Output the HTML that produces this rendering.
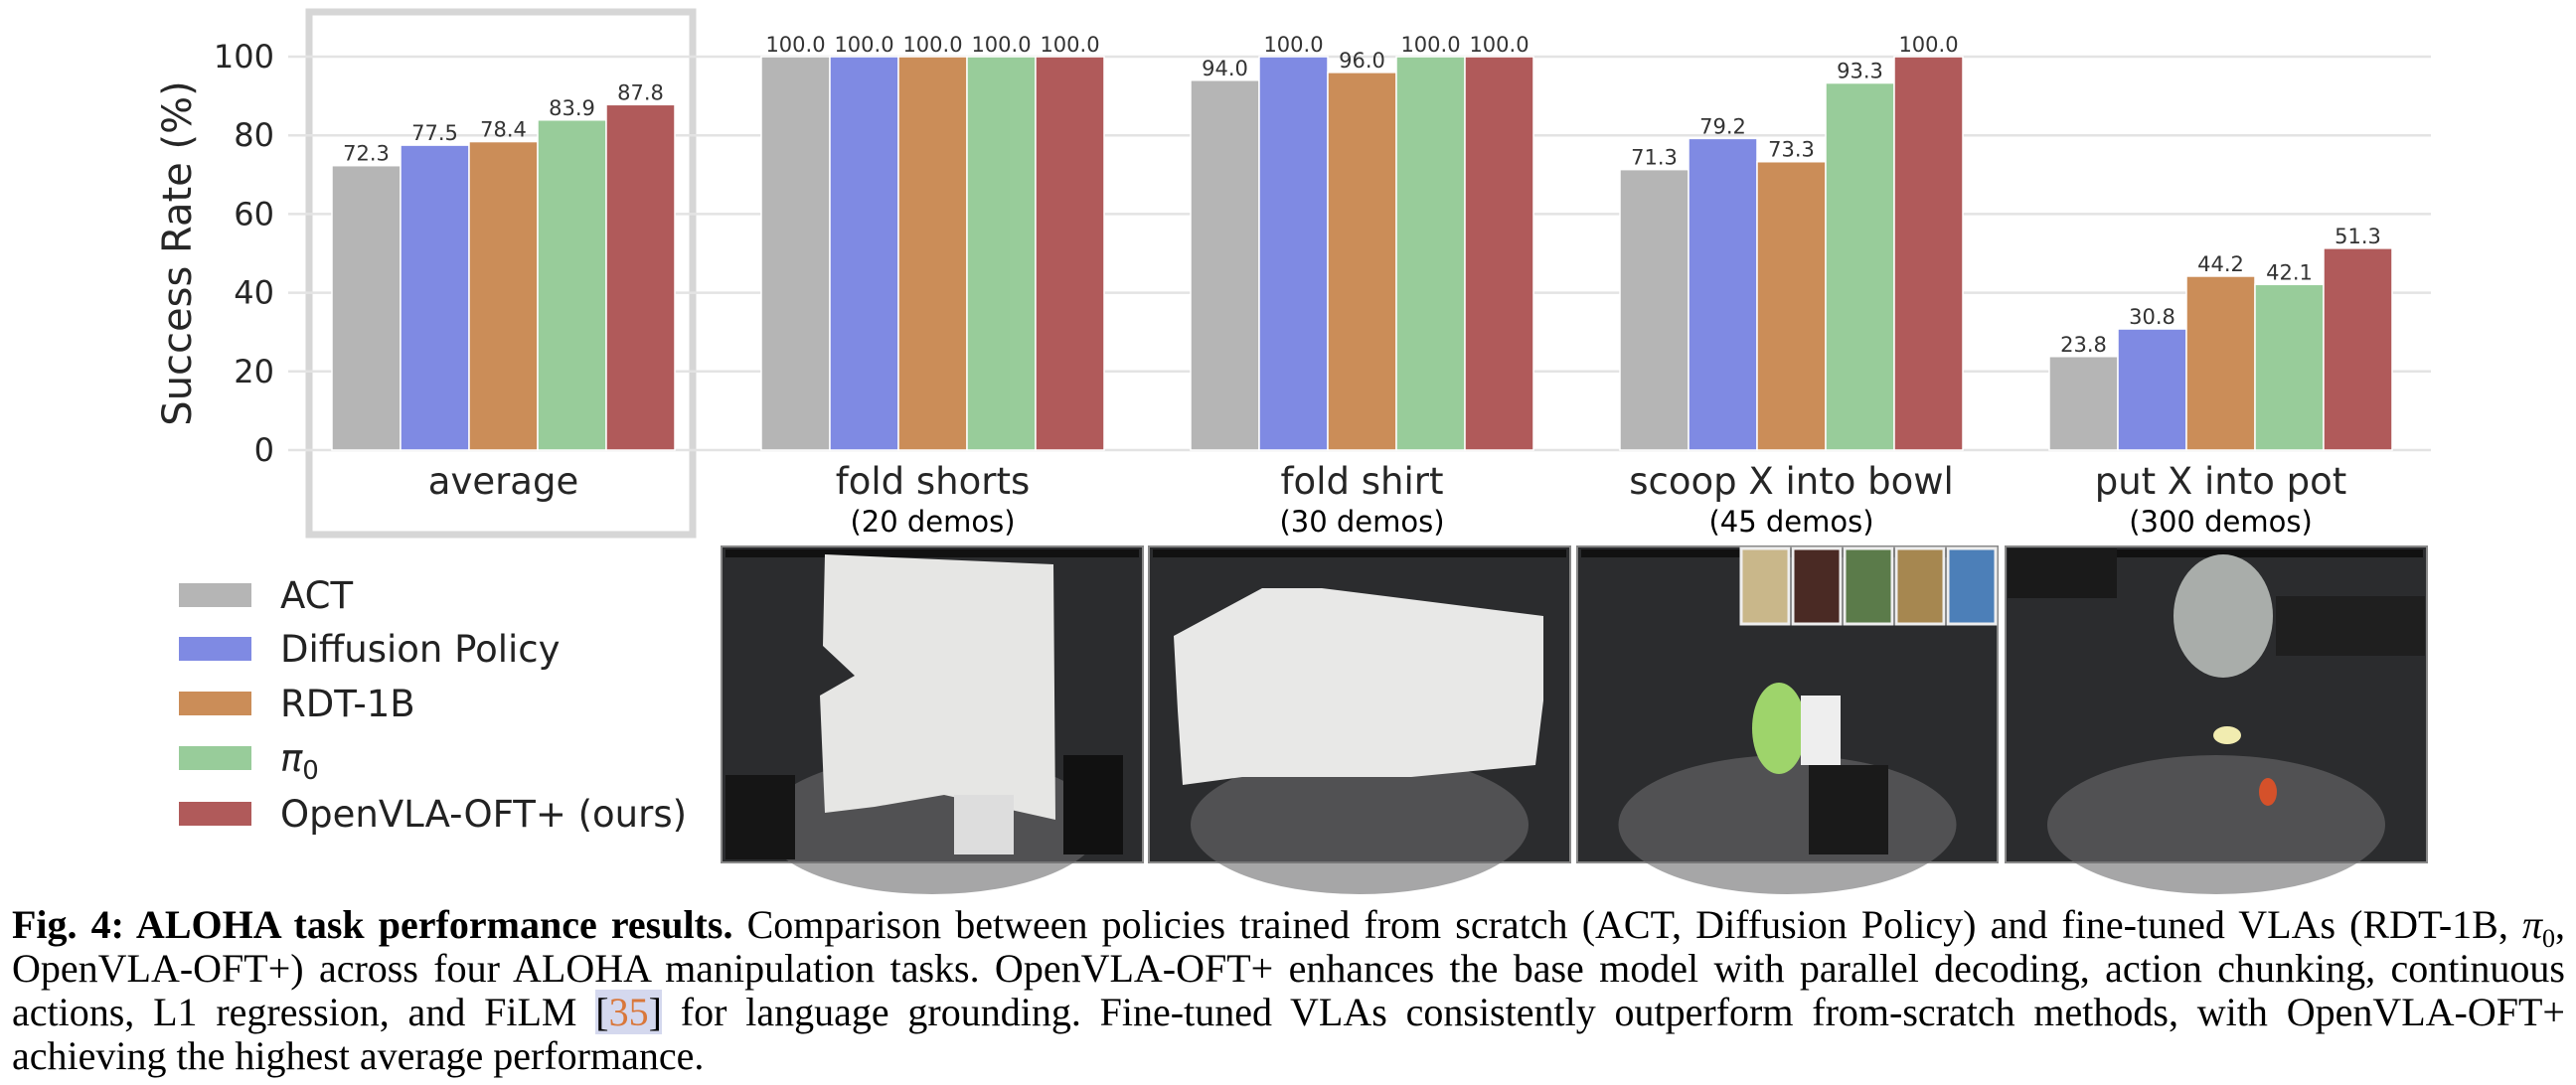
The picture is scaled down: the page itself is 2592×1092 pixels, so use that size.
<!DOCTYPE html>
<html><head><meta charset="utf-8">
<style>
html,body{margin:0;padding:0;background:#fff;}
body{width:2592px;height:1092px;overflow:hidden;position:relative;}
svg{position:absolute;left:0;top:0;}
.cap{position:absolute;left:12px;width:2569px;font-family:"Liberation Serif",serif;font-size:40px;color:#000;line-height:44px;white-space:nowrap;}
.j{text-align:justify;text-align-last:justify;}
.cite{color:#000;background:#d4d8ee;}
.cite span{color:#d9773a;}
</style></head>
<body>
<svg id="chart" width="2592" height="1092" xmlns="http://www.w3.org/2000/svg"></svg>
<div class="cap j" style="top:909px"><b>Fig. 4: ALOHA task performance results.</b> Comparison between policies trained from scratch (ACT, Diffusion Policy) and fine-tuned VLAs (RDT-1B, <i>π</i><sub style="font-size:26px">0</sub>,</div>
<div class="cap j" style="top:953px">OpenVLA-OFT+) across four ALOHA manipulation tasks. OpenVLA-OFT+ enhances the base model with parallel decoding, action chunking, continuous</div>
<div class="cap j" style="top:997px">actions, L1 regression, and FiLM <span class="cite">[<span>35</span>]</span> for language grounding. Fine-tuned VLAs consistently outperform from-scratch methods, with OpenVLA-OFT+</div>
<div class="cap" style="top:1041px">achieving the highest average performance.</div>
<script>
const categories = ["average","fold shorts","fold shirt","scoop X into bowl","put X into pot"];
const subtitles = ["","(20 demos)","(30 demos)","(45 demos)","(300 demos)"];
const seriesNames = ["ACT","Diffusion Policy","RDT-1B","π0","OpenVLA-OFT+ (ours)"];
const actVals = [72.3,100.0,94.0,71.3,23.8];
const dpVals = [77.5,100.0,100.0,79.2,30.8];
const rdtVals = [78.4,100.0,96.0,73.3,44.2];
const pi0Vals = [83.9,100.0,100.0,93.3,42.1];
const oftVals = [87.8,100.0,100.0,100.0,51.3];
const yTicks = [0,20,40,60,80,100];

const series = [actVals,dpVals,rdtVals,pi0Vals,oftVals];
const colors = ["#b5b5b5","#7f8ae3","#cb8d58","#98cc9a","#b05a5a"];
const NS="http://www.w3.org/2000/svg";
const svg=document.getElementById('chart');
function el(tag,attrs,parent){const e=document.createElementNS(NS,tag);for(const k in attrs)e.setAttribute(k,attrs[k]);(parent||svg).appendChild(e);return e;}
const y0=453, y100=57;
function yScale(v){return y0-(y0-y100)*v/100;}
const groupStart=334, groupStep=432, barW=69;
function xBar(g,s){return groupStart+g*groupStep+s*barW;}
const FONT='"DejaVu Sans","Liberation Sans",sans-serif';

const frame=el('rect',{x:311,y:12,width:386,height:526,fill:'none',stroke:'#d6d6d6','stroke-width':7});



yTicks.forEach(t=>{
  const gl=el('line',{x1:290,x2:2446,y1:yScale(t),y2:yScale(t),stroke:'#e3e3e3','stroke-width':2.5});
  
  
  const tx=el('text',{x:276,y:yScale(t)+11,'text-anchor':'end','font-family':FONT,'font-size':32,fill:'#262626'});
  tx.textContent=t;
  
  
});
const yt=el('text',{x:0,y:0,transform:'translate(192,255) rotate(-90)','text-anchor':'middle','font-family':FONT,'font-size':40,fill:'#262626'});
yt.textContent='Success Rate (%)';



categories.forEach((c,g)=>{
  series.forEach((vals,s)=>{
    const v=vals[g];
    const r=el('rect',{x:xBar(g,s),y:yScale(v),width:barW,height:y0-yScale(v),fill:colors[s],stroke:'#fff','stroke-width':1.5});
    
    
    const lb=el('text',{x:xBar(g,s)+barW/2,y:yScale(v)-5,'text-anchor':'middle','font-family':FONT,'font-size':21,fill:'#333'});
    lb.textContent=v.toFixed(1);
    
    
  });
  const cx=groupStart+g*groupStep+barW*2.5;
  const cl=el('text',{x:cx,y:497,'text-anchor':'middle','font-family':FONT,'font-size':37,fill:'#262626'});
  cl.textContent=c;
  
  
  if(subtitles[g]){
    const sl=el('text',{x:cx,y:535,'text-anchor':'middle','font-family':FONT,'font-size':29,fill:'#000'});
    sl.textContent=subtitles[g];
    
    
  }
});

const legY=[599,653,708,763,819];
seriesNames.forEach((n,i)=>{
  const sw=el('rect',{x:180,y:legY[i]-12,width:73,height:24,fill:colors[i]});
  
  
  const t=el('text',{x:282,y:legY[i]+13,'font-family':FONT,'font-size':37,fill:'#222'});
  if(i===3){t.innerHTML='<tspan font-style="italic">π</tspan><tspan font-size="26" dy="8">0</tspan>';}
  else t.textContent=n;
  
  
});

const photos=[[726,1150],[1156,1580],[1587,2010],[2018,2442]];
photos.forEach((p,i)=>{
  const g=el('g',{});
  
  
  el('rect',{x:p[0],y:550,width:p[1]-p[0],height:318,fill:'#2b2c2e',stroke:'#888','stroke-width':2},g);
  el('ellipse',{cx:(p[0]+p[1])/2,cy:830,rx:170,ry:70,fill:'#6a6b6d',opacity:0.6},g);
  el('rect',{x:p[0]+4,y:553,width:p[1]-p[0]-8,height:8,fill:'#111'},g);
});
el('polygon',{points:'830,558 1060,568 1062,825 950,800 880,812 830,818 825,700 860,680 828,650',fill:'#e6e6e4'});
el('rect',{x:960,y:800,width:60,height:60,fill:'#ddd'});
el('rect',{x:1070,y:760,width:60,height:100,fill:'#111'});
el('rect',{x:730,y:780,width:70,height:85,fill:'#151515'});
el('polygon',{points:'1181,640 1270,592 1330,592 1553,620 1553,705 1545,770 1420,782 1250,782 1190,790 1185,715',fill:'#e8e8e7'});
[0,1,2,3,4].forEach(k=>{el('rect',{x:1752+k*52,y:552,width:48,height:76,fill:['#c9b78a','#4a2a24','#5b7b4a','#a68750','#4c7fb8'][k],stroke:'#eee','stroke-width':3});});
el('ellipse',{cx:1790,cy:733,rx:27,ry:46,fill:'#9ed46b'});
el('rect',{x:1812,y:700,width:40,height:70,fill:'#eee'});
el('rect',{x:1820,y:770,width:80,height:90,fill:'#1a1a1a'});
el('ellipse',{cx:2237,cy:620,rx:50,ry:62,fill:'#a9adaa'});
el('rect',{x:2020,y:552,width:110,height:50,fill:'#1a1a1a'});
el('rect',{x:2290,y:600,width:150,height:60,fill:'#1f1f1f'});
el('ellipse',{cx:2241,cy:740,rx:14,ry:9,fill:'#f1ecb0'});
el('ellipse',{cx:2282,cy:797,rx:9,ry:14,fill:'#d5512a'});
</script>
</body></html>
